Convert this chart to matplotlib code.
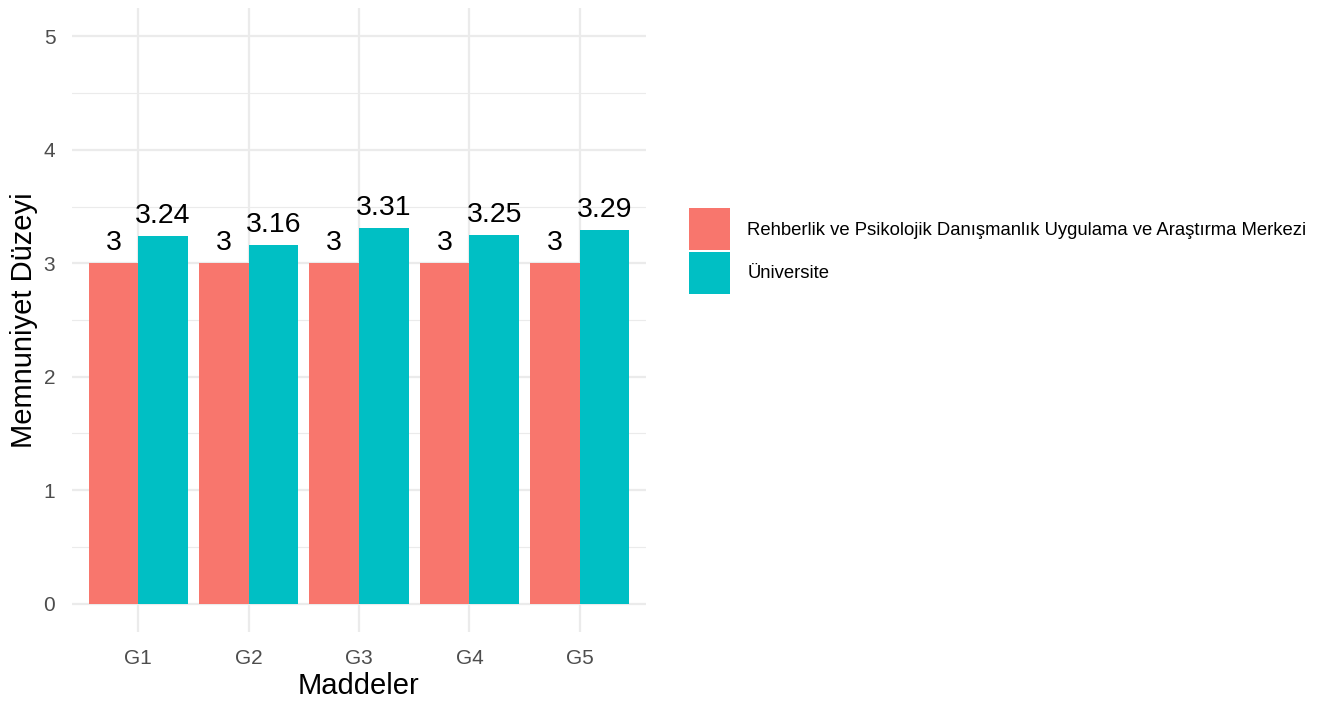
import numpy as np
import matplotlib.pyplot as plt
from matplotlib.ticker import MultipleLocator

plt.rcParams['font.family'] = ['Liberation Sans', 'DejaVu Sans']

items = ['G1', 'G2', 'G3', 'G4', 'G5']
merkez = [3, 3, 3, 3, 3]
universite = [3.24, 3.16, 3.31, 3.25, 3.29]
series_names = ['Rehberlik ve Psikolojik Danışmanlık Uygulama ve Araştırma Merkezi',
                'Üniversite']
colors = ['#F8766D', '#00BFC4']

W, H = 1333, 702
fig = plt.figure(figsize=(W / 100, H / 100), dpi=100)
ax = fig.add_axes([72 / W, 70 / H, (646 - 72) / W, (632 - 8) / H])

x = np.arange(1, len(items) + 1)
bw = 0.45
b1 = ax.bar(x - bw / 2, merkez, width=bw, color=colors[0], label=series_names[0], zorder=3)
b2 = ax.bar(x + bw / 2, universite, width=bw, color=colors[1], label=series_names[1], zorder=3)

for bars, vals in [(b1, merkez), (b2, universite)]:
    for rect, v in zip(bars, vals):
        ax.annotate(f'{v:g}', xy=(rect.get_x() + rect.get_width() / 2, v),
                    xytext=(0, 5), textcoords='offset points',
                    ha='center', va='bottom', fontsize=20.5, color='black', zorder=4)

ax.set_xlim(0.4, 5.6)
ax.set_ylim(-0.25, 5.25)
ax.set_xticks(x)
ax.set_xticklabels(items)
ax.yaxis.set_major_locator(MultipleLocator(1))
ax.yaxis.set_minor_locator(MultipleLocator(0.5))
ax.set_yticks(np.arange(0, 6))

ax.grid(True, which='major', color='#EBEBEB', linewidth=1.6, zorder=0)
ax.grid(True, which='minor', axis='y', color='#EBEBEB', linewidth=0.8, zorder=0)
for s in ax.spines.values():
    s.set_visible(False)
ax.tick_params(axis='both', which='both', length=0, labelsize=15, labelcolor='#4D4D4D')
ax.tick_params(axis='x', pad=12)
ax.tick_params(axis='y', pad=12)

ax.set_xlabel('Maddeler', fontsize=21, color='black', labelpad=3)
ax.set_ylabel('Memnuniyet Düzeyi', fontsize=21, color='black', labelpad=4)

leg = fig.legend(handles=[b1, b2], labels=series_names, loc='center left',
                 bbox_to_anchor=(680 / W, 1 - 251 / H), frameon=False,
                 fontsize=13.3, handlelength=2.2, handleheight=3.1,
                 labelspacing=0.1, handletextpad=0.95, borderpad=0)

fig.savefig('out.png', dpi=100, facecolor='white')
